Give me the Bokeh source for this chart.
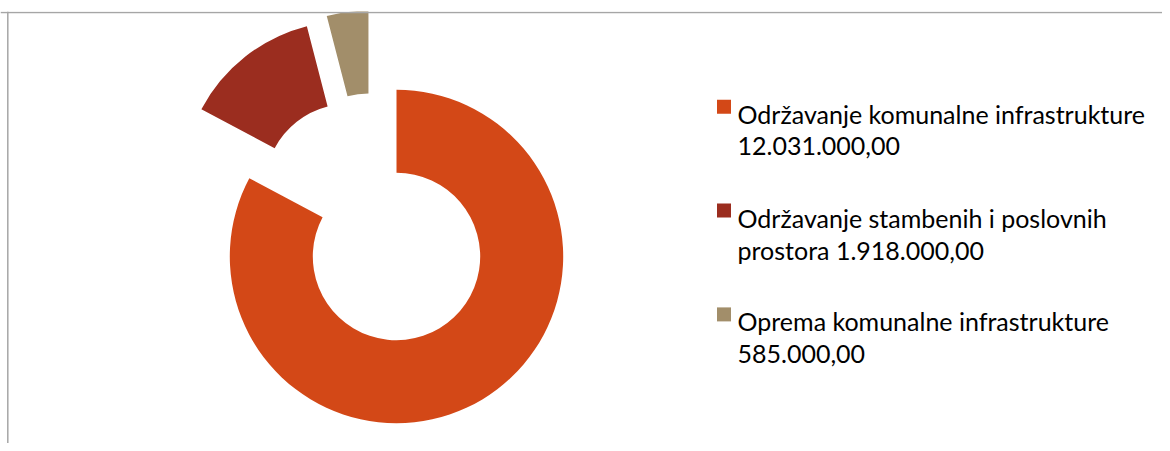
import math
import textwrap
from bokeh.plotting import figure
from bokeh.models import Range1d, Span, ColumnDataSource
from bokeh.embed import file_html
from bokeh.resources import INLINE
from bokeh.core.properties import value

# ---- data ----
categories = [
    "Održavanje komunalne infrastrukture",
    "Održavanje stambenih i poslovnih prostora",
    "Oprema komunalne infrastrukture",
]
values = [12031000.00, 1918000.00, 585000.00]
colors = ["#D34817", "#9B2D1F", "#A28E6A"]

# ---- style / layout ----
explode_dist = [0, 84, 84]            # px
explode_dir = [0.0, -34.8, -19.5]     # degrees, clockwise from 12 o'clock
R_OUT, R_IN = 166.7, 83.7
FONT = "Lato"
FONT_SIZE = 25

W, H, TOP = 1162, 443, 11


def fmt(v):
    s = f"{v:,.2f}"
    return s.replace(",", "X").replace(".", ",").replace("X", ".")


def px(x):   # image x -> data x
    return x


def py(y):   # image y -> data y
    return H - y


p = figure(width=W, height=H, x_range=Range1d(0, W), y_range=Range1d(0, H - TOP),
           min_border_left=0, min_border_right=0, min_border_top=TOP, min_border_bottom=0,
           toolbar_location=None, output_backend="svg",
           x_axis_type=None, y_axis_type=None)
p.outline_line_color = None
p.grid.visible = False
p.background_fill_color = "white"
p.border_fill_color = "white"

# frame lines (top and left of chart area)
p.add_layout(Span(location=py(12), dimension="width", line_color="#A6A6A6", line_width=1.5))
p.add_layout(Span(location=px(7.3), dimension="height", line_color="#A6A6A6", line_width=1.5))

# ---- doughnut ----
total = sum(values)
cx, cy = px(396), py(256)
xs, ys, starts, ends = [], [], [], []
cum = 0.0
for v, d, phi in zip(values, explode_dist, explode_dir):
    t0 = cum / total * 360.0
    cum += v
    t1 = cum / total * 360.0
    xs.append(cx + d * math.sin(math.radians(phi)))
    ys.append(cy + d * math.cos(math.radians(phi)))
    starts.append(math.radians(90 - t0))
    ends.append(math.radians(90 - t1))

src = ColumnDataSource(dict(x=xs, y=ys, s=starts, e=ends, c=colors))
p.annular_wedge(x="x", y="y", inner_radius=R_IN, outer_radius=R_OUT,
                start_angle="s", end_angle="e", direction="clock",
                fill_color="c", line_color=None, source=src)

# ---- legend ----
base0, step, line_h = 113.3, 103.8, 32.5
sq_x, sq_size, text_x = 723.5, 14, 737
lx, ly, lt = [], [], []
qx, qy, qc = [], [], []
for i, (cat, v, col) in enumerate(zip(categories, values, colors)):
    b = base0 + i * step
    qx.append(px(sq_x)); qy.append(py(b - 7)); qc.append(col)
    lines = textwrap.wrap(f"{cat} {fmt(v)}", width=35)
    for j, ln in enumerate(lines):
        lx.append(px(text_x)); ly.append(py(b + j * line_h)); lt.append(ln)

p.rect(x=qx, y=qy, width=sq_size, height=sq_size, fill_color=qc, line_color=None)
p.text(x=lx, y=ly, text=lt, text_font=value(FONT), text_font_size=f"{FONT_SIZE}px",
       text_baseline="alphabetic", text_align="left", text_color="#000000")

open("out.html", "w").write(file_html(p, INLINE))
